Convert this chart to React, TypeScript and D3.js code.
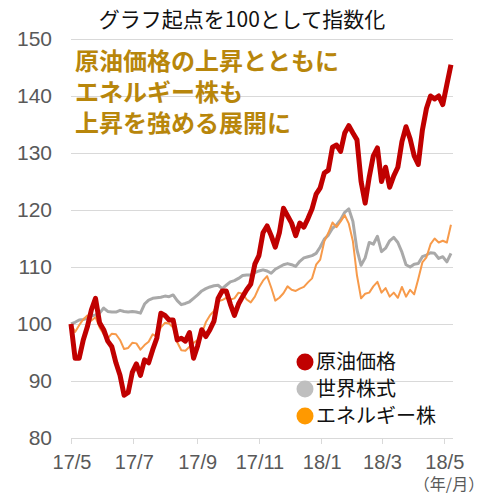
import React, { useRef, useEffect } from 'react';
import * as d3 from 'd3';

// 4日おきのサンプル (2017/5/1 起点)
const startDate = new Date(2017, 4, 1);
const stepDays = 4;

const crudeOil = [
  100, 94, 94, 97.2, 99.5, 102.5, 104.5, 100.2, 99, 97, 96, 93.2, 91, 87.5, 88, 91.5,
  93, 91, 93.7, 93.2, 95.5, 97.5, 101.9, 101.5, 100.7, 100.7, 97.2, 97.5, 97, 98.5,
  94, 96.2, 99, 97.8, 99, 100.5, 104.5, 105.8, 105.8, 103.5, 101.5, 103.5, 104.8, 106,
  107, 110.5, 112, 116, 117.2, 115.5, 113.5, 116, 120.3, 119, 117.7, 115.5, 117.7, 117,
  118.5, 120.2, 122.8, 123.9, 126.5, 127, 131, 131.4, 130.3, 133.5, 134.8, 133.5, 132.3,
  125, 121.2, 125.8, 129.5, 130.9, 125, 127.5, 124, 126, 127.5, 132, 134.6, 132.5, 129.5,
  128, 134, 137.8, 140, 139.5, 140, 138.5, 142, 145.5,
];

const worldStocks = [
  100, 100.3, 100.7, 100.8, 101, 101.4, 101.6, 101.9, 102.8, 102.2, 102.1, 102.1, 102.4,
  102.2, 102.1, 102.2, 102.1, 101.9, 103.5, 104.2, 104.5, 104.6, 104.7, 104.9, 104.8,
  105.1, 104.1, 103.4, 103.6, 103.9, 104.5, 105.1, 105.8, 106.2, 106.5, 106.7, 106.8,
  106.2, 106.8, 107.4, 107.6, 108, 108.5, 108.6, 108.6, 109, 109.3, 109.5, 109.3, 108.9,
  109.6, 110, 110.4, 110.6, 110.4, 110.1, 111, 111.6, 111.8, 112, 112.4, 113.5, 114.9,
  115.6, 116.8, 117.4, 118.3, 119.6, 120.2, 118, 113, 110.3, 111.6, 114.3, 114, 115.4,
  112.7, 113.3, 114.6, 115.2, 114.3, 112.6, 110.4, 110, 110.5, 110.6, 111.8, 112.1, 112.5,
  112.4, 111.5, 111.8, 110.9, 112.4,
];

const energyStocks = [
  100, 98.6, 99.8, 100.8, 101.5, 100.6, 101.2, 99.4, 98.2, 97.5, 98.3, 98.2, 97.2, 95.6,
  95.8, 96.7, 96.6, 95.5, 96.3, 96.9, 98.2, 97.8, 99.4, 100.2, 100.1, 99.4, 96.8, 95.4,
  95.3, 96, 96.7, 97.2, 98.3, 100.3, 101.5, 102.3, 104, 104.2, 104.6, 104.3, 104.5, 105.5,
  105.3, 104.3, 103.8, 104.8, 106.4, 107.6, 108.4, 106.4, 104.1, 104.6, 105.4, 106.6, 106,
  105.8, 106.2, 106.5, 107.3, 108, 110.4, 111.3, 114.5, 116, 117.8, 117, 118, 119.1, 117.6,
  114.5, 108.5, 104.5, 105.3, 105.5, 106.6, 107.4, 105.5, 106.3, 104.8, 105.5, 104.6, 106.5,
  104.8, 106, 105.2, 107.9, 110.8, 111.7, 114, 115, 114.3, 114.6, 114.3, 117.4,
];

const yTicks = [80, 90, 100, 110, 120, 130, 140, 150];
const legendLabels = ['原油価格', '世界株式', 'エネルギー株'];
const noteLines = ['原油価格の上昇とともに', 'エネルギー株も', '上昇を強める展開に'];
const titleText = 'グラフ起点を100として指数化';
const unitText = '（年/月）';

function Chart() {
  const chartRef = useRef(null);

  useEffect(() => {
    const width = 492;
    const height = 494;
    const latin = '"Liberation Sans", Arial, "Noto Sans CJK JP", sans-serif';
    const jp = '"Noto Sans CJK JP", sans-serif';

    const dates = crudeOil.map((_, i) => d3.timeDay.offset(startDate, i * stepDays));

    const x = d3.scaleTime()
      .domain([startDate, new Date(2018, 4, 10)])
      .range([71, 453]);

    const y = d3.scaleLinear()
      .domain([80, 150])
      .range([438, 39]);

    const svg = d3.select(chartRef.current)
      .append('svg')
      .attr('width', width)
      .attr('height', height)
      .style('position', 'absolute')
      .style('left', 0)
      .style('top', 0)
      .style('background', '#fff');

    // title
    svg.append('text')
      .attr('x', 242)
      .attr('y', 27)
      .attr('text-anchor', 'middle')
      .attr('font-family', jp)
      .attr('font-size', 21)
      .attr('fill', '#111')
      .text(titleText);

    // grid
    svg.selectAll('.grid')
      .data(yTicks)
      .enter()
      .append('line')
      .attr('class', 'grid')
      .attr('x1', 71)
      .attr('x2', 453)
      .attr('y1', (d) => Math.round(y(d)) + 0.5)
      .attr('y2', (d) => Math.round(y(d)) + 0.5)
      .attr('stroke', '#d9d9d9')
      .attr('stroke-width', 1);

    svg.selectAll('.ylab')
      .data(yTicks)
      .enter()
      .append('text')
      .attr('class', 'ylab')
      .attr('x', 52)
      .attr('y', (d) => y(d))
      .attr('dy', '0.35em')
      .attr('text-anchor', 'end')
      .attr('font-family', latin)
      .attr('font-size', 21)
      .attr('fill', '#595959')
      .text((d) => d);

    // x ticks
    const xTicks = d3.timeMonth.every(2).range(startDate, new Date(2018, 4, 2));
    const fmt = d3.timeFormat('%y/%-m');

    svg.selectAll('.xtick')
      .data(xTicks)
      .enter()
      .append('line')
      .attr('class', 'xtick')
      .attr('x1', (d) => Math.round(x(d)) + 0.5)
      .attr('x2', (d) => Math.round(x(d)) + 0.5)
      .attr('y1', 438)
      .attr('y2', 444)
      .attr('stroke', '#d9d9d9');

    svg.selectAll('.xlab')
      .data(xTicks)
      .enter()
      .append('text')
      .attr('class', 'xlab')
      .attr('x', (d) => x(d) + 1)
      .attr('y', 469)
      .attr('text-anchor', 'middle')
      .attr('font-family', latin)
      .attr('font-size', 20)
      .attr('fill', '#595959')
      .text((d) => fmt(d));

    svg.append('text')
      .attr('x', 449)
      .attr('y', 490)
      .attr('text-anchor', 'middle')
      .attr('font-family', jp)
      .attr('font-size', 16)
      .attr('fill', '#595959')
      .text(unitText);

    // series
    const line = d3.line()
      .x((d, i) => x(dates[i]))
      .y((d) => y(d))
      .curve(d3.curveLinear);

    const series = [
      { values: worldStocks, color: '#a9a9a9', w: 3 },
      { values: energyStocks, color: '#f79a4a', w: 2 },
      { values: crudeOil, color: '#c00000', w: 5 },
    ];

    svg.selectAll('.series')
      .data(series)
      .enter()
      .append('path')
      .attr('class', 'series')
      .attr('d', (d) => line(d.values))
      .attr('fill', 'none')
      .attr('stroke', (d) => d.color)
      .attr('stroke-width', (d) => d.w)
      .attr('stroke-linejoin', 'round');

    // note
    svg.selectAll('.note')
      .data(noteLines)
      .enter()
      .append('text')
      .attr('class', 'note')
      .attr('x', 75)
      .attr('y', (d, i) => 70 + i * 31)
      .attr('font-family', jp)
      .attr('font-size', 24)
      .attr('font-weight', 'bold')
      .attr('fill', '#b8860b')
      .text((d) => d);

    // legend
    const legendColors = ['#c00000', '#bfbfbf', '#ff9900'];
    const lg = svg.append('g');
    lg.selectAll('circle')
      .data(legendLabels)
      .enter()
      .append('circle')
      .attr('cx', 305)
      .attr('cy', (d, i) => 362 + i * 27)
      .attr('r', 8.5)
      .attr('fill', (d, i) => legendColors[i]);

    lg.selectAll('text')
      .data(legendLabels)
      .enter()
      .append('text')
      .attr('x', 316)
      .attr('y', (d, i) => 362 + i * 27)
      .attr('dy', '0.36em')
      .attr('font-family', jp)
      .attr('font-size', 20)
      .attr('fill', '#111')
      .text((d) => d);

    return () => {
      svg.remove();
    };
  }, []);

  return <div ref={chartRef}></div>;
}

export default function App() {
  return <Chart />;
}
